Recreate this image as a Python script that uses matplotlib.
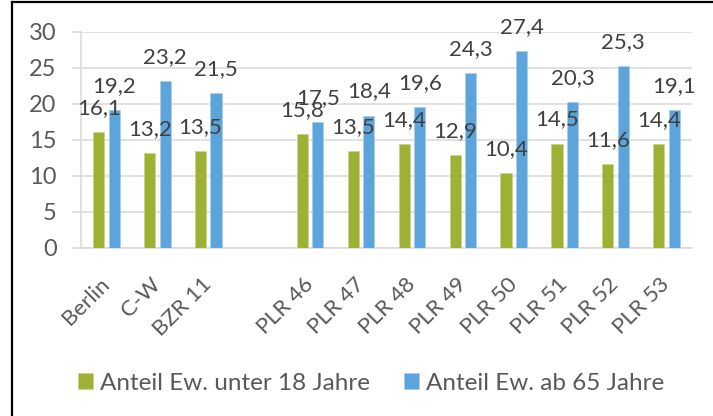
import numpy as np
import matplotlib.pyplot as plt
from matplotlib.lines import Line2D

plt.rcParams['font.family'] = ['Lato', 'DejaVu Sans']

categories = ["Berlin", "C-W", "BZR 11", "", "PLR 46", "PLR 47", "PLR 48",
              "PLR 49", "PLR 50", "PLR 51", "PLR 52", "PLR 53"]
unter_18 = [16.1, 13.2, 13.5, np.nan, 15.8, 13.5, 14.4, 12.9, 10.4, 14.5, 11.6, 14.4]
ab_65 = [19.2, 23.2, 21.5, np.nan, 17.5, 18.4, 19.6, 24.3, 27.4, 20.3, 25.3, 19.1]
series_names = ["Anteil Ew. unter 18 Jahre", "Anteil Ew. ab 65 Jahre"]

green = "#9FB135"
blue = "#5DA4DB"
grid_col = "#d9d9d9"
text_col = "#595959"

fig = plt.figure(figsize=(7.13, 4.16), dpi=100)
ax = fig.add_axes([81 / 713, 1 - 248 / 416, 611 / 713, 216 / 416])

x = np.arange(len(categories))
w = 0.22
off = 0.152
b1 = ax.bar(x - off, unter_18, w, color=green, edgecolor="#c8d48a", linewidth=0.5,
            label=series_names[0], zorder=3)
b2 = ax.bar(x + off, ab_65, w, color=blue, edgecolor="#a8cdea", linewidth=0.5,
            label=series_names[1], zorder=3)

# data labels, german decimal comma
for xs, vals in ((x - off, unter_18), (x + off, ab_65)):
    for xi, v in zip(xs, vals):
        if np.isnan(v):
            continue
        ax.annotate(f"{v:.1f}".replace(".", ","), (xi, v), xytext=(0, 13),
                    textcoords="offset points", ha="center", va="baseline",
                    fontsize=16, color="#404040", zorder=4)

ax.set_ylim(0, 30)
ax.set_xlim(-0.5, len(categories) - 0.5)
ax.set_yticks(range(0, 31, 5))
ax.grid(axis="y", color=grid_col, linewidth=1.1, zorder=0)
for s in ["top", "right"]:
    ax.spines[s].set_visible(False)
for s in ["left", "bottom"]:
    ax.spines[s].set_color(grid_col)
    ax.spines[s].set_linewidth(1.1)
ax.tick_params(axis="y", colors=grid_col, labelcolor=text_col, labelsize=17,
               length=6.5, width=1.1, pad=11)
ax.tick_params(axis="x", length=0, labelcolor=text_col, labelsize=16, pad=24)
ax.set_xticks(x)
ax.set_xticklabels(categories, rotation=45, ha="right", va="center",
                   rotation_mode="anchor")

fig.legend(handles=[b1, b2], loc="center", bbox_to_anchor=(0.521, 0.079),
           ncol=2, frameon=False, fontsize=17.5, labelcolor=text_col,
           handlelength=0.6, handleheight=0.6, handletextpad=0.3,
           columnspacing=1.4)

# outer frame (left and top edge visible)
fig.add_artist(Line2D([11.5 / 713, 11.5 / 713], [0, 1 - 2 / 416],
                      transform=fig.transFigure, color="black", lw=1.6))
fig.add_artist(Line2D([11.5 / 713, 1], [1 - 2 / 416, 1 - 2 / 416],
                      transform=fig.transFigure, color="black", lw=1.6))

fig.savefig("out.png", dpi=100)
